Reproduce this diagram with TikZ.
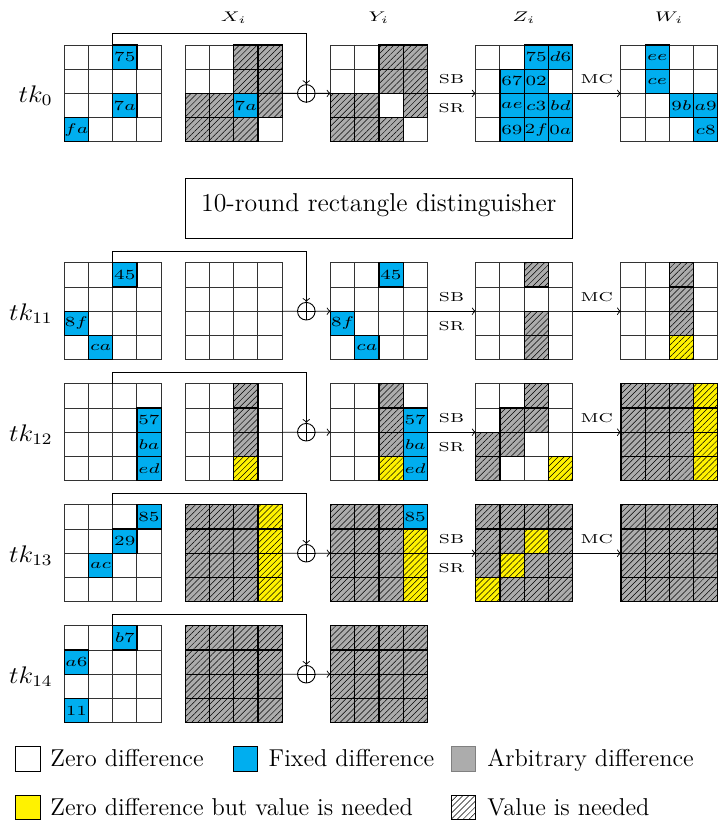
\documentclass[tikz,border=0pt]{standalone}
\usepackage{graphicx}
\usetikzlibrary{patterns.meta,calc}
\definecolor{fixblue}{RGB}{0,174,239}
\definecolor{arbgray}{RGB}{172,172,172}
\definecolor{needyellow}{RGB}{255,242,0}
\newcommand\hx[2]{\scalebox{#1}[1]{#2}}
\newcommand\cellsz{\fontsize{7}{8}\selectfont}
\newcommand\smallsz{\fontsize{6.5}{7}\selectfont}
\newcommand\hdrsz{\fontsize{7}{8}\selectfont}
\newcommand\tksz{\fontsize{12}{14}\selectfont}
\newcommand\legsz{\fontsize{12.2}{14}\selectfont}
\newcommand\boxsz{\fontsize{12.9}{15}\selectfont}
\tikzset{
 hatch/.style={postaction={pattern={Lines[angle=45,distance=2.1pt,line width=0.25pt]}}},
 cellbase/.style={minimum size=12.1pt,inner sep=0pt,outer sep=0pt,draw=black!80,line width=0.45pt,font=\cellsz},
 cz/.style={cellbase,fill=white},
 cf/.style={cellbase,fill=fixblue},
 ca/.style={cellbase,fill=arbgray,hatch},
 cy/.style={cellbase,fill=needyellow,hatch},
 bdcz/.style={draw=none},
 bdcf/.style={draw=black,line width=0.6pt},
 bdca/.style={draw=black,line width=0.6pt},
 bdcy/.style={draw=black,line width=0.6pt},
 gridframe/.style={minimum size=48.4pt,inner sep=0pt,outer sep=0pt,anchor=north west},
 xorc/.style={circle,draw,minimum size=8.8pt,inner sep=0pt,line width=0.45pt},
 conn/.style={line width=0.45pt},
 lbl/.style={font=\smallsz,inner sep=0pt},
 hdr/.style={font=\hdrsz,inner sep=0pt,anchor=base},
 tklab/.style={font=\tksz,inner sep=0pt,anchor=base east},
 legtext/.style={font=\legsz,inner sep=0pt,anchor=base west},
 legsq/.style={minimum size=12.1pt,inner sep=0pt,outer sep=0pt,line width=0.45pt},
}
\newcommand\gridat[4]{%
 \node[gridframe] (#1) at (#2,#3) {};
 \foreach[count=\k from 0] \s/\t in {#4}{%
   \pgfmathtruncatemacro\rr{\k/4}%
   \pgfmathtruncatemacro\cc{\k-4*\rr}%
   \node[\s] (#1-\rr-\cc) at ({#2+\cc+0.5},{#3+\rr+0.5}) {\hx{1.33}{$\t$}};
 }%
 \foreach[count=\k from 0] \s/\t in {#4}{%
   \pgfmathtruncatemacro\rr{\k/4}%
   \pgfmathtruncatemacro\cc{\k-4*\rr}%
   \draw[bd\s] ({#2+\cc},{#3+\rr}) rectangle ({#2+\cc+1},{#3+\rr+1});
 }%
}
\begin{document}
\begin{tikzpicture}[x=12.1pt,y=-12.1pt,>=to]
\useasboundingbox (-2.657,-1.860) rectangle (27.012,32.231);
% headers
\node[hdr] (hX) at (7,-0.96) {\hx{1.35}{$X_i$}};
\node[hdr] (hY) at (13,-0.96) {\hx{1.35}{$Y_i$}};
\node[hdr] (hZ) at (19,-0.96) {\hx{1.35}{$Z_i$}};
\node[hdr] (hW) at (25,-0.96) {\hx{1.35}{$W_i$}};
% round tk0
\gridat{T0}{0}{0}{cz/{},cz/{},cf/75,cz/{},cz/{},cz/{},cz/{},cz/{},cz/{},cz/{},cf/7a,cz/{},cf/fa,cz/{},cz/{},cz/{}}
\gridat{X0}{5}{0}{cz/{},cz/{},ca/{},ca/{},cz/{},cz/{},ca/{},ca/{},ca/{},ca/{},cf/7a,ca/{},ca/{},ca/{},ca/{},cz/{}}
\gridat{Y0}{11}{0}{cz/{},cz/{},ca/{},ca/{},cz/{},cz/{},ca/{},ca/{},ca/{},ca/{},cz/{},ca/{},ca/{},ca/{},ca/{},cz/{}}
\gridat{Z0}{17}{0}{cz/{},cz/{},cf/75,cf/d6,cz/{},cf/67,cf/02,cz/{},cz/{},cf/ae,cf/c3,cf/bd,cz/{},cf/69,cf/2f,cf/0a}
\gridat{W0}{23}{0}{cz/{},cf/ee,cz/{},cz/{},cz/{},cf/ce,cz/{},cz/{},cz/{},cz/{},cf/9b,cf/a9,cz/{},cz/{},cz/{},cf/c8}
% round tk11
\gridat{T11}{0}{9}{cz/{},cz/{},cf/45,cz/{},cz/{},cz/{},cz/{},cz/{},cf/8f,cz/{},cz/{},cz/{},cz/{},cf/ca,cz/{},cz/{}}
\gridat{X11}{5}{9}{cz/{},cz/{},cz/{},cz/{},cz/{},cz/{},cz/{},cz/{},cz/{},cz/{},cz/{},cz/{},cz/{},cz/{},cz/{},cz/{}}
\gridat{Y11}{11}{9}{cz/{},cz/{},cf/45,cz/{},cz/{},cz/{},cz/{},cz/{},cf/8f,cz/{},cz/{},cz/{},cz/{},cf/ca,cz/{},cz/{}}
\gridat{Z11}{17}{9}{cz/{},cz/{},ca/{},cz/{},cz/{},cz/{},cz/{},cz/{},cz/{},cz/{},ca/{},cz/{},cz/{},cz/{},ca/{},cz/{}}
\gridat{W11}{23}{9}{cz/{},cz/{},ca/{},cz/{},cz/{},cz/{},ca/{},cz/{},cz/{},cz/{},ca/{},cz/{},cz/{},cz/{},cy/{},cz/{}}
% round tk12
\gridat{T12}{0}{14}{cz/{},cz/{},cz/{},cz/{},cz/{},cz/{},cz/{},cf/57,cz/{},cz/{},cz/{},cf/ba,cz/{},cz/{},cz/{},cf/ed}
\gridat{X12}{5}{14}{cz/{},cz/{},ca/{},cz/{},cz/{},cz/{},ca/{},cz/{},cz/{},cz/{},ca/{},cz/{},cz/{},cz/{},cy/{},cz/{}}
\gridat{Y12}{11}{14}{cz/{},cz/{},ca/{},cz/{},cz/{},cz/{},ca/{},cf/57,cz/{},cz/{},ca/{},cf/ba,cz/{},cz/{},cy/{},cf/ed}
\gridat{Z12}{17}{14}{cz/{},cz/{},ca/{},cz/{},cz/{},ca/{},ca/{},cz/{},ca/{},ca/{},cz/{},cz/{},ca/{},cz/{},cz/{},cy/{}}
\gridat{W12}{23}{14}{ca/{},ca/{},ca/{},cy/{},ca/{},ca/{},ca/{},cy/{},ca/{},ca/{},ca/{},cy/{},ca/{},ca/{},ca/{},cy/{}}
% round tk13
\gridat{T13}{0}{19}{cz/{},cz/{},cz/{},cf/85,cz/{},cz/{},cf/29,cz/{},cz/{},cf/ac,cz/{},cz/{},cz/{},cz/{},cz/{},cz/{}}
\gridat{X13}{5}{19}{ca/{},ca/{},ca/{},cy/{},ca/{},ca/{},ca/{},cy/{},ca/{},ca/{},ca/{},cy/{},ca/{},ca/{},ca/{},cy/{}}
\gridat{Y13}{11}{19}{ca/{},ca/{},ca/{},cf/85,ca/{},ca/{},ca/{},cy/{},ca/{},ca/{},ca/{},cy/{},ca/{},ca/{},ca/{},cy/{}}
\gridat{Z13}{17}{19}{ca/{},ca/{},ca/{},ca/{},ca/{},ca/{},cy/{},ca/{},ca/{},cy/{},ca/{},ca/{},cy/{},ca/{},ca/{},ca/{}}
\gridat{W13}{23}{19}{ca/{},ca/{},ca/{},ca/{},ca/{},ca/{},ca/{},ca/{},ca/{},ca/{},ca/{},ca/{},ca/{},ca/{},ca/{},ca/{}}
% round tk14
\gridat{T14}{0}{24}{cz/{},cz/{},cf/b7,cz/{},cf/a6,cz/{},cz/{},cz/{},cz/{},cz/{},cz/{},cz/{},cf/11,cz/{},cz/{},cz/{}}
\gridat{X14}{5}{24}{ca/{},ca/{},ca/{},ca/{},ca/{},ca/{},ca/{},ca/{},ca/{},ca/{},ca/{},ca/{},ca/{},ca/{},ca/{},ca/{}}
\gridat{Y14}{11}{24}{ca/{},ca/{},ca/{},ca/{},ca/{},ca/{},ca/{},ca/{},ca/{},ca/{},ca/{},ca/{},ca/{},ca/{},ca/{},ca/{}}
% tk labels, xor and connectors
\foreach \n/\tp in {0/0,11/9,12/14,13/19,14/24}{
  \node[tklab] (lab\n) at (-0.47,\tp+2.37) {\hx{1.12}{$tk_{\n}$}};
  \node[xorc] (P\n) at (10,\tp+2) {};
  \draw[conn] (P\n.north) -- (P\n.south) (P\n.west) -- (P\n.east);
  \draw[conn,->] (T\n-0-2.north west) -- ++(0,-0.47) -| (P\n.north);
  \draw[conn] (X\n.east) -- (P\n.west);
  \draw[conn,->] (P\n.east) -- (Y\n.west);
}
\foreach \n in {0,11,12,13}{
  \draw[conn,->] (Y\n.east) -- (Z\n.west)
     node[lbl,midway,yshift=7pt] (sb\n) {\hx{1.35}{SB}}
     node[lbl,midway,yshift=-7.5pt] (sr\n) {\hx{1.35}{SR}};
  \draw[conn,->] (Z\n.east) -- (W\n.west)
     node[lbl,midway,yshift=7pt] (mc\n) {\hx{1.35}{MC}};
}
% distinguisher box
\node[draw,line width=0.45pt,minimum width=193.6pt,minimum height=30.25pt,inner sep=0pt,
      text height=6pt,text depth=2.6pt,font=\boxsz] (dist) at (13,6.75) {10-round rectangle distinguisher};
% legend
\node[legsq,draw=black,fill=white] (k1) at (-1.5,29.5) {};
\node[legtext] (k1t) at (-0.59,29.82) {Zero difference};
\node[legsq,draw=black,fill=fixblue] (k2) at (7.5,29.5) {};
\node[legtext] (k2t) at (8.43,29.82) {Fixed difference};
\node[legsq,draw=black!50,fill=arbgray] (k3) at (16.5,29.5) {};
\node[legtext] (k3t) at (17.47,29.82) {Arbitrary difference};
\node[legsq,draw=black,fill=needyellow] (k4) at (-1.5,31.5) {};
\node[legtext] (k4t) at (-0.59,31.82) {Zero difference but value is needed};
\node[legsq,draw=black,fill=white,hatch] (k5) at (16.5,31.5) {};
\node[legtext] (k5t) at (17.47,31.82) {Value is needed};
\end{tikzpicture}
\end{document}
